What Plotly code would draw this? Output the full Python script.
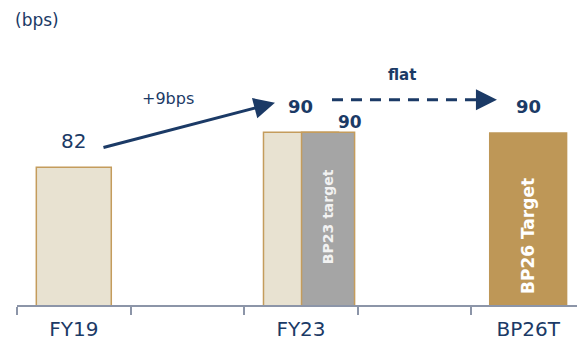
import plotly.graph_objects as go

# data
categories = ["FY19", " ", "FY23", "  ", "BP26T"]
actual_x = ["FY19", "FY23"]
actual_vals = [82, 90]
bp23_x = ["FY23"]
bp23_vals = [90]
bp26_x = ["BP26T"]
bp26_vals = [90]
bar_labels = ["BP23 target", "BP26 Target"]

navy = "#1B3A66"
gold = "#BE9757"
font = "DejaVu Sans"

fig = go.Figure()

fig.add_trace(go.Bar(
    x=actual_x, y=actual_vals, width=0.66,
    marker=dict(color="#E8E2D1", line=dict(color="#C49C5C", width=1.5)),
    hoverinfo="skip",
))
fig.add_trace(go.Bar(
    x=bp23_x, y=bp23_vals, width=0.467, offset=0.005,
    marker=dict(color="#A5A5A5", line=dict(color="#C49C5C", width=1.5)),
    hoverinfo="skip",
))
fig.add_trace(go.Bar(
    x=bp26_x, y=bp26_vals, width=0.69,
    marker=dict(color=gold, line=dict(color=gold, width=0)),
    hoverinfo="skip",
))

# labels inside the target bars
fig.add_annotation(x=2.2385, y=70.6, text=f"<b>{bar_labels[0]}</b>", textangle=-90,
                   showarrow=False, font=dict(size=14, color="#F2F2F2", family=font))
fig.add_annotation(x=4, y=66.3, text=f"<b>{bar_labels[1]}</b>", textangle=-90,
                   showarrow=False, font=dict(size=17, color="white", family=font))

# value labels
fig.add_annotation(x=actual_x[0], y=actual_vals[0], text=str(actual_vals[0]),
                   showarrow=False, yanchor="middle", yshift=26,
                   font=dict(size=20, color=navy, family=font))
fig.add_annotation(x=actual_x[1], y=actual_vals[1], text=f"<b>{actual_vals[1]}</b>",
                   showarrow=False, yanchor="middle", yshift=26,
                   font=dict(size=18, color=navy, family=font))
fig.add_annotation(x=bp23_x[0], y=bp23_vals[0], text=f"<b>{bp23_vals[0]}</b>",
                   showarrow=False, yanchor="middle", yshift=10, xshift=49,
                   font=dict(size=17, color=navy, family=font))
fig.add_annotation(x=bp26_x[0], y=bp26_vals[0], text=f"<b>{bp26_vals[0]}</b>",
                   showarrow=False, yanchor="middle", yshift=26,
                   font=dict(size=18, color=navy, family=font))

# solid growth arrow
fig.add_annotation(x=1.771, y=96.7, ax=0.248, ay=86.4, axref="x", ayref="y",
                   xref="x", yref="y", text="", showarrow=True,
                   arrowhead=2, arrowsize=1.4, arrowwidth=3, arrowcolor=navy,
                   standoff=0, startstandoff=0)
fig.add_annotation(x=0.829, y=97.8, text="+9bps", showarrow=False,
                   font=dict(size=16, color=navy, family=font))

# dashed flat arrow
fig.add_shape(type="line", x0=2.273, y0=97.4, x1=3.62, y1=97.4,
              line=dict(color=navy, width=3, dash="11px,8px"))
fig.add_annotation(x=3.725, y=97.4, ax=-14, ay=0, text="", showarrow=True,
                   arrowhead=2, arrowsize=1.4, arrowwidth=3, arrowcolor=navy,
                   standoff=0)
fig.add_annotation(x=2.889, y=103.1, text="<b>flat</b>", showarrow=False,
                   font=dict(size=15, color=navy, family=font))

fig.add_annotation(x=0.036, y=1.075, xref="paper", yref="paper", text="(bps)",
                   xanchor="center", yanchor="middle",
                   showarrow=False, font=dict(size=17, color=navy, family=font))

fig.update_layout(
    width=577, height=348,
    margin=dict(l=17, r=0, t=40, b=43),
    barmode="overlay",
    showlegend=False,
    plot_bgcolor="white",
    paper_bgcolor="white",
    font=dict(family=font, color=navy),
)
fig.update_xaxes(
    type="category", categoryorder="array", categoryarray=categories,
    range=[-0.5, 4.43], tickson="boundaries", ticks="outside", ticklen=8,
    tickcolor="#8C95A8", tickwidth=1.5, showline=True, linecolor="#8C95A8",
    linewidth=1.5, showgrid=False, ticklabelstandoff=5,
    tickfont=dict(size=20, color=navy, family=font),
)
fig.update_yaxes(range=[50.5, 111.07], visible=False, showgrid=False)

fig.write_html("out.html", config={"displayModeBar": False},
               post_script="document.body.style.margin='0';")
